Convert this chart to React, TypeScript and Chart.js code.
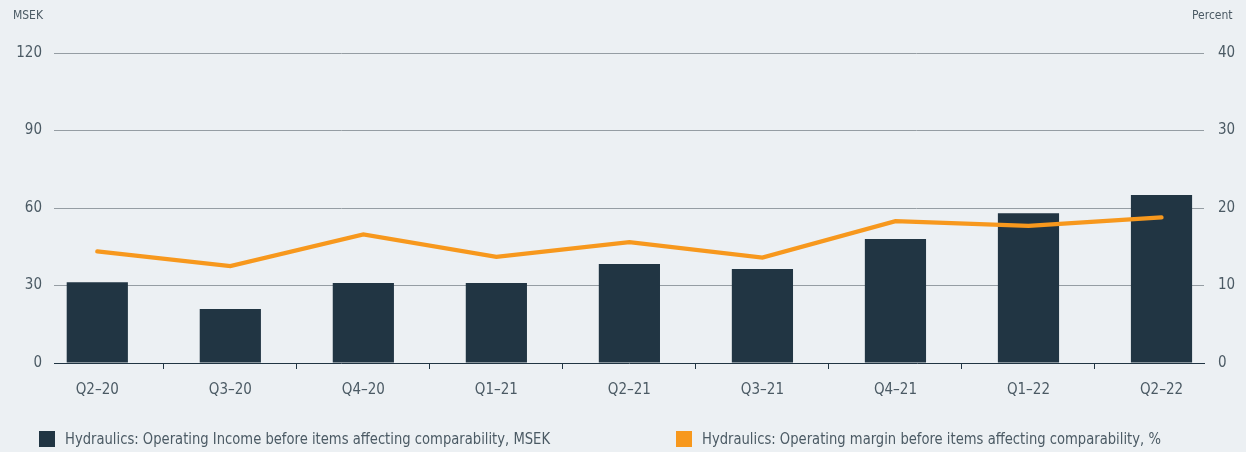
import React, { useEffect, useRef } from "react";
import { Chart, registerables } from "chart.js";

Chart.register(...registerables);

const categories = ["Q2–20", "Q3–20", "Q4–20", "Q1–21", "Q2–21", "Q3–21", "Q4–21", "Q1–22", "Q2–22"];
const operatingIncome = [31.3, 20.9, 31.0, 31.0, 38.3, 36.4, 48.0, 58.0, 65.0];
const operatingMargin = [14.4, 12.5, 16.6, 13.7, 15.6, 13.6, 18.3, 17.7, 18.8];
const incomeTicks = [0, 30, 60, 90, 120];
const marginTicks = [0, 10, 20, 30, 40];

const incomeLabel = "Hydraulics: Operating Income before items affecting comparability, MSEK";
const marginLabel = "Hydraulics: Operating margin before items affecting comparability, %";

const BG = "#ECF0F3";
const DARK = "#213543";
const ORANGE = "#F7981D";
const TEXT = "#4B5A64";
const FONT = "'Liberation Sans Narrow', 'DejaVu Sans Condensed', 'Roboto', sans-serif";

export default function App() {
  const canvasRef = useRef<HTMLCanvasElement | null>(null);

  useEffect(() => {
    document.body.style.margin = "0";
    document.body.style.background = BG;
    const canvas = canvasRef.current;
    if (!canvas) return;
    const chart = new Chart(canvas, {
      type: "bar",
      data: {
        datasets: [
          {
            type: "line",
            label: marginLabel,
            data: operatingMargin.map((v, i) => ({ x: i, y: v })),
            yAxisID: "y1",
            borderColor: ORANGE,
            backgroundColor: ORANGE,
            borderWidth: 4.3,
            pointRadius: 0,
            borderCapStyle: "round",
            borderJoinStyle: "miter",
            tension: 0,
            order: 0,
          } as any,
          {
            type: "bar",
            label: incomeLabel,
            data: operatingIncome.map((v, i) => ({ x: i, y: v })),
            yAxisID: "y",
            backgroundColor: DARK,
            borderWidth: 0,
            categoryPercentage: 1,
            barPercentage: 0.46,
            order: 1,
          } as any,
        ],
      },
      options: {
        responsive: false,
        animation: false,
        layout: { padding: { top: 53, bottom: 49, left: 0, right: 0 } },
        plugins: {
          legend: { display: false },
          tooltip: { enabled: false },
          title: { display: false },
        },
        scales: {
          x: {
            type: "linear",
            offset: false,
            min: -0.3255,
            max: 8.3195,
            afterBuildTicks: (scale: any) => {
              scale.ticks = categories.map((_, i) => ({ value: i }));
            },
            afterFit: (scale: any) => {
              scale.height = 40;
            },
            ticks: {
              autoSkip: false,
              maxRotation: 0,
              minRotation: 0,
              padding: 12,
              color: TEXT,
              font: { family: FONT, size: 15 },
              callback: (value: any) => categories[Math.round(Number(value))] ?? "",
            },
            grid: {
              display: true,
              offset: true,
              drawOnChartArea: false,
              drawTicks: true,
              tickLength: 6,
              color: DARK,
              lineWidth: 1,
            },
            border: { display: true, color: DARK, width: 1 },
          },
          y: {
            type: "linear",
            position: "left",
            min: 0,
            max: 120,
            afterBuildTicks: (scale: any) => {
              scale.ticks = incomeTicks.map((v) => ({ value: v }));
            },
            afterFit: (scale: any) => {
              scale.width = 54;
            },
            ticks: {
              padding: 12,
              color: TEXT,
              font: { family: FONT, size: 15 },
              crossAlign: "near",
            },
            grid: {
              drawTicks: false,
              color: (ctx: any) => (ctx.tick && ctx.tick.value === 0 ? "rgba(0,0,0,0)" : "#959DA3"),
              lineWidth: 1,
            },
            border: { display: false },
          },
          y1: {
            type: "linear",
            position: "right",
            min: 0,
            max: 40,
            afterBuildTicks: (scale: any) => {
              scale.ticks = marginTicks.map((v) => ({ value: v }));
            },
            afterFit: (scale: any) => {
              scale.width = 42;
            },
            ticks: {
              padding: 14,
              color: TEXT,
              font: { family: FONT, size: 15 },
            },
            grid: { drawOnChartArea: false, drawTicks: false },
            border: { display: false },
          },
        },
      },
    });
    return () => chart.destroy();
  }, []);

  const textStyle: React.CSSProperties = {
    position: "absolute",
    fontFamily: FONT,
    color: TEXT,
    whiteSpace: "nowrap",
    lineHeight: "1",
  };
  const legendText: React.CSSProperties = {
    ...textStyle,
    fontSize: 15,
    top: 432,
    transform: "scaleX(0.975)",
    transformOrigin: "left center",
  };

  return (
    <div style={{ position: "relative", width: 1246, height: 452, background: BG, overflow: "hidden" }}>
      <canvas ref={canvasRef} width={1246} height={452} style={{ display: "block" }} />
      <div style={{ ...textStyle, fontSize: 12, top: 9, right: 1246 - 43, textAlign: "right" }}>MSEK</div>
      <div style={{ ...textStyle, fontSize: 12, top: 9, left: 1192 }}>Percent</div>
      <div style={{ position: "absolute", left: 39, top: 431, width: 16, height: 16, background: DARK }} />
      <div style={{ ...legendText, left: 65 }}>{incomeLabel}</div>
      <div style={{ position: "absolute", left: 676, top: 431, width: 16, height: 16, background: ORANGE }} />
      <div style={{ ...legendText, left: 702 }}>{marginLabel}</div>
    </div>
  );
}
